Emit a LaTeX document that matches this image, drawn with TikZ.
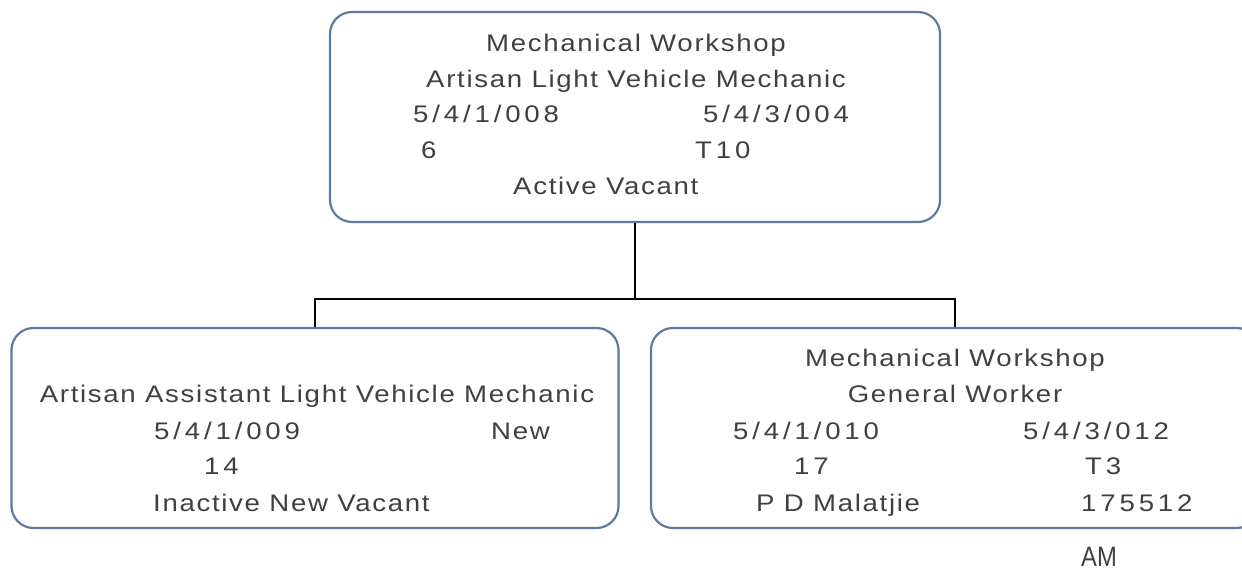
\documentclass[tikz,border=0pt]{standalone}
\usepackage{fontspec}
\setmainfont{Liberation Sans}
\newfontfamily\labfont{Liberation Sans}[FakeStretch=1.15,LetterSpace=7]
\newfontfamily\numfont{Liberation Sans}[FakeStretch=1.15,LetterSpace=16]
\usepackage{graphicx}
\definecolor{boxblue}{HTML}{5E7AA0}
\definecolor{txtgray}{HTML}{404040}
\begin{document}
\begin{tikzpicture}[x=1pt,y=-1pt,
  box/.style={draw=boxblue, line width=2.2pt, rounded corners=22pt, inner sep=0pt, fill=white},
  conn/.style={draw=black, line width=2.5pt},
  lbl/.style={text=txtgray, font=\labfont\fontsize{24}{28}\selectfont, inner sep=0pt, anchor=base west},
  clbl/.style={lbl, anchor=base},
  num/.style={lbl, font=\numfont\fontsize{24}{28}\selectfont},
  am/.style={text=txtgray, inner sep=0pt, anchor=base west, font=\fontsize{28}{32}\selectfont}]
\useasboundingbox (0,0) rectangle (1242,570);
\clip (0,0) rectangle (1242,570);
% boxes
\node[box, minimum width=610pt, minimum height=210pt] (top) at (635,117) {};
\node[box, minimum width=607pt, minimum height=200pt] (left) at (315,428) {};
\node[box, minimum width=608pt, minimum height=200pt] (right) at (955,428) {};
% connectors
\coordinate (j) at (635,299);
\draw[conn] (top.south) -- (j);
\draw[conn] (j) -| (left.north);
\draw[conn] (j) -| (right.north);
% top box text
\node[clbl] (t1) at (636,51.6) {Mechanical Workshop};
\node[clbl] (t2) at (636,87) {Artisan Light Vehicle Mechanic};
\node[num] (t3) at (413,122) {5/4/1/008};
\node[num] (t4) at (703,122) {5/4/3/004};
\node[num] (t5) at (421,158) {6};
\node[num] (t6) at (695,158) {T10};
\node[lbl] (t7) at (513,194.5) {Active Vacant};
% left box text
\node[clbl] (l1) at (317,402) {Artisan Assistant Light Vehicle Mechanic};
\node[num] (l2) at (154,439) {5/4/1/009};
\node[lbl] (l3) at (491,439) {New};
\node[num] (l4) at (204,474.5) {14};
\node[lbl] (l5) at (153,511) {Inactive New Vacant};
% right box text
\node[clbl] (r1) at (955,366.5) {Mechanical Workshop};
\node[clbl] (r2) at (955,402) {General Worker};
\node[num] (r3) at (733,439) {5/4/1/010};
\node[num] (r4) at (1023,439) {5/4/3/012};
\node[num] (r5) at (794,474.5) {17};
\node[num] (r6) at (1085,474.5) {T3};
\node[lbl] (r7) at (756,511) {P D Malatjie};
\node[num] (r8) at (1081,511) {175512};
% stray label
\node[am] (am) at (1081,566) {\scalebox{0.85}[1]{AM}};
\end{tikzpicture}
\end{document}
